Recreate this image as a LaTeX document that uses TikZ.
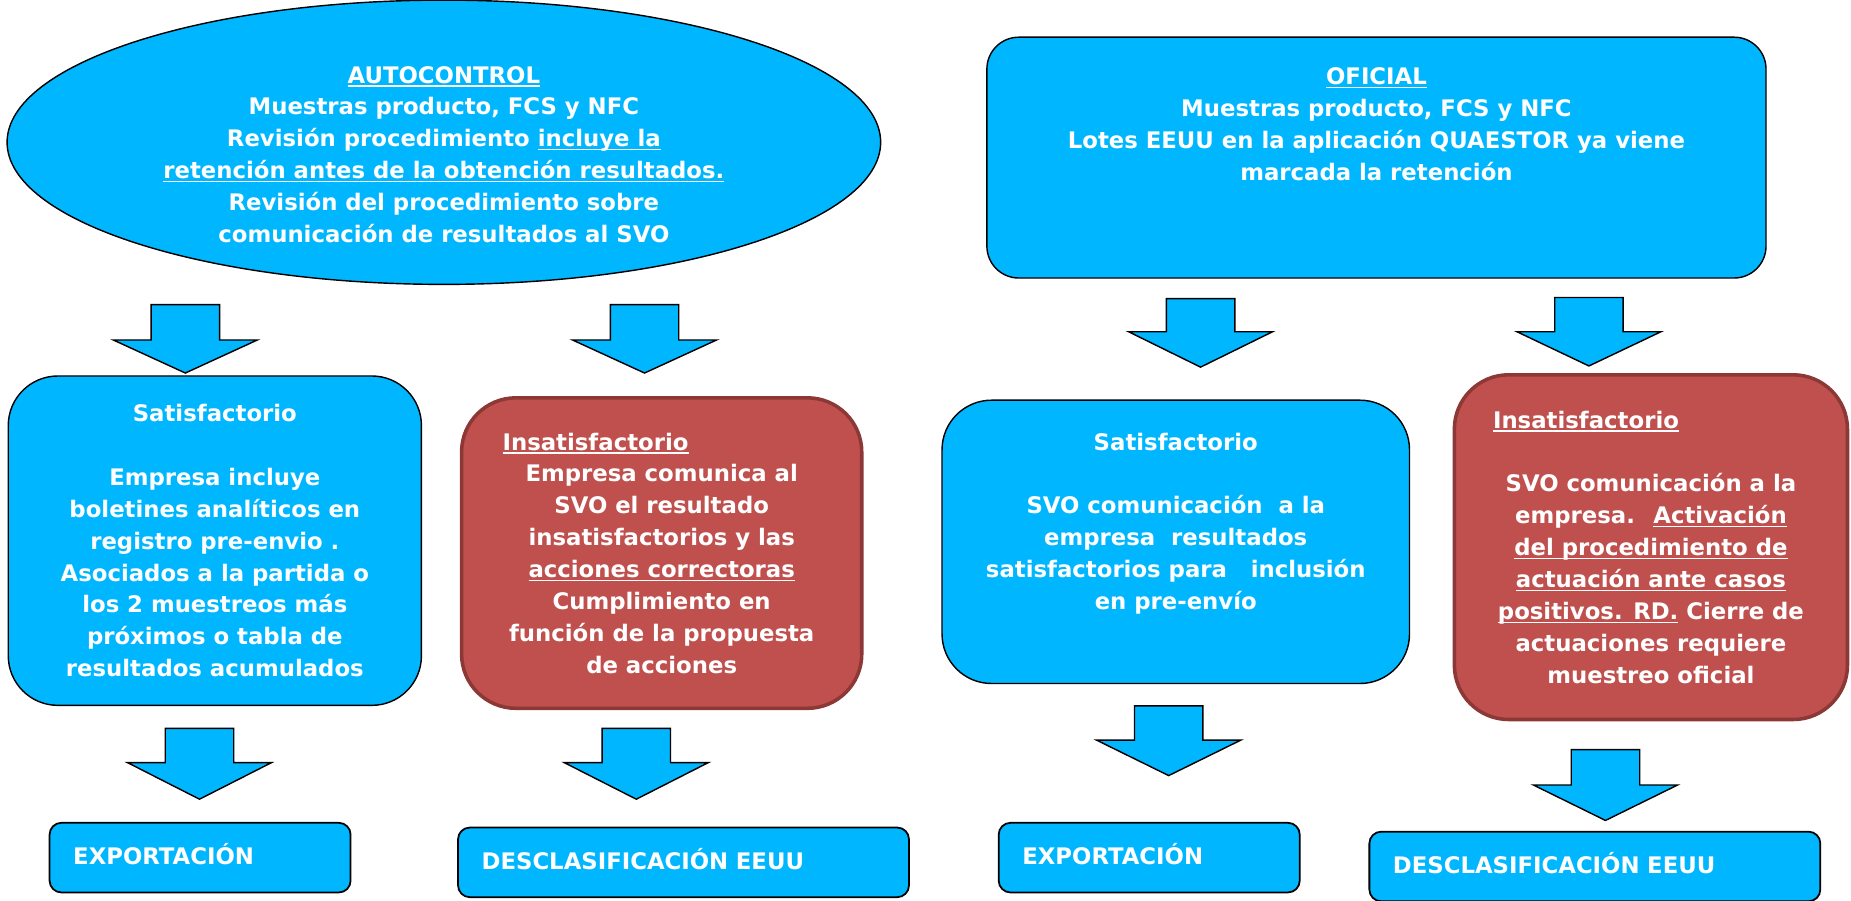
\documentclass[tikz,border=0pt]{standalone}
\usepackage{fontspec}
\setmainfont{DejaVu Sans}
\usetikzlibrary{shapes.geometric}

\definecolor{boxblue}{HTML}{00B7FF}
\definecolor{boxred}{HTML}{C0504D}
\definecolor{boxredline}{HTML}{8C3836}

% underline at a fixed depth
\newcommand\undl[1]{\setbox0\hbox{#1}\rlap{\rule[-3pt]{\wd0}{1.2pt}}\box0\relax}

\tikzset{
  every node/.style={font=\fontsize{19.3}{27}\selectfont\bfseries, text=white},
  bluebox/.style={draw=black, line width=1.2pt, fill=boxblue, rounded corners=42pt, align=center},
  redbox/.style={draw=boxredline, line width=3pt, fill=boxred, rounded corners=46pt, align=center},
  endbox/.style={draw=black, line width=1.5pt, fill=boxblue, rounded corners=10pt, align=left,
                 inner xsep=20pt, text width=#1, minimum height=59pt, text depth=6pt},
  blockarrow/.style={draw=black, line width=1.2pt, fill=boxblue},
}

\begin{document}
\begin{tikzpicture}[x=1pt, y=-1pt]
\useasboundingbox (0,0) rectangle (1568,763);

\node[ellipse, draw=black, line width=1.2pt, fill=boxblue, inner sep=0pt, align=center,
      minimum width=740pt, minimum height=231pt, text height=170pt] (auto) at (376,120.5)
  {\undl{AUTOCONTROL}\\ Muestras producto, FCS y NFC\\
   Revisión procedimiento \undl{incluye la}\\
   \undl{retención antes de la obtención resultados.}\\
   Revisión del procedimiento sobre\\ comunicación de resultados al SVO};
\node[bluebox, rounded corners=27pt, minimum width=660pt, minimum height=204pt, text depth=57pt] (ofi) at (1166,133.5)
  {\undl{OFICIAL}\\ Muestras producto, FCS y NFC\\
   Lotes EEUU en la aplicación QUAESTOR ya viene\\ marcada la retención};

\node[bluebox, minimum width=350pt, minimum height=279pt] (sat1) at (182,458)
  {Satisfactorio\\[27pt] Empresa incluye\\ boletines analíticos en\\ registro pre-envio .\\
   Asociados a la partida o\\ los 2 muestreos más\\ próximos o tabla de\\ resultados acumulados};
\node[redbox, minimum width=339pt, minimum height=263pt] (ins1) at (560.5,468.5)
  {\undl{Insatisfactorio}\hspace*{112pt}\\ Empresa comunica al\\ SVO el resultado\\
   insatisfactorios y las\\ \undl{acciones correctoras}\\ Cumplimiento en\\
   función de la propuesta\\ de acciones};
\node[bluebox, minimum width=396pt, minimum height=240pt, text depth=35pt] (sat2) at (996,459)
  {Satisfactorio\\[27pt] SVO comunicación~ a la\\ empresa~ resultados\\
   satisfactorios para~~ inclusión\\ en pre-envío};
\node[redbox, minimum width=333pt, minimum height=292pt] (ins2) at (1398.5,463.5)
  {\undl{Insatisfactorio}\hspace*{110pt}\\[27pt] SVO comunicación a la\\
   empresa.~ \undl{Activación}\\ \undl{del procedimiento de}\\ \undl{actuación ante casos}\\
   \undl{positivos. RD.} Cierre de\\ actuaciones requiere\\ muestreo oficial};

\node[endbox=215pt] (exp1) at (169.5,726.5) {EXPORTACIÓN};
\node[endbox=342pt] (des1) at (579,730.5) {DESCLASIFICACIÓN EEUU};
\node[endbox=215pt] (exp2) at (973.5,726.5) {EXPORTACIÓN};
\node[endbox=342pt] (des2) at (1351,734) {DESCLASIFICACIÓN EEUU};

% block arrows: x / shaft top / head base / tip
\foreach \x/\t/\b/\p in {157/258/288/316, 546/258/288/316, 1017/253/281/311, 1346/252/281/310,
                         169/617/646/677, 539/617/646/677, 990/598/627/657, 1360/635/665/695}
  \draw[blockarrow] (\x-29,\t) -- (\x+29,\t) -- (\x+29,\b) -- (\x+61,\b) -- (\x,\p)
                    -- (\x-61,\b) -- (\x-29,\b) -- cycle;
\end{tikzpicture}
\end{document}
